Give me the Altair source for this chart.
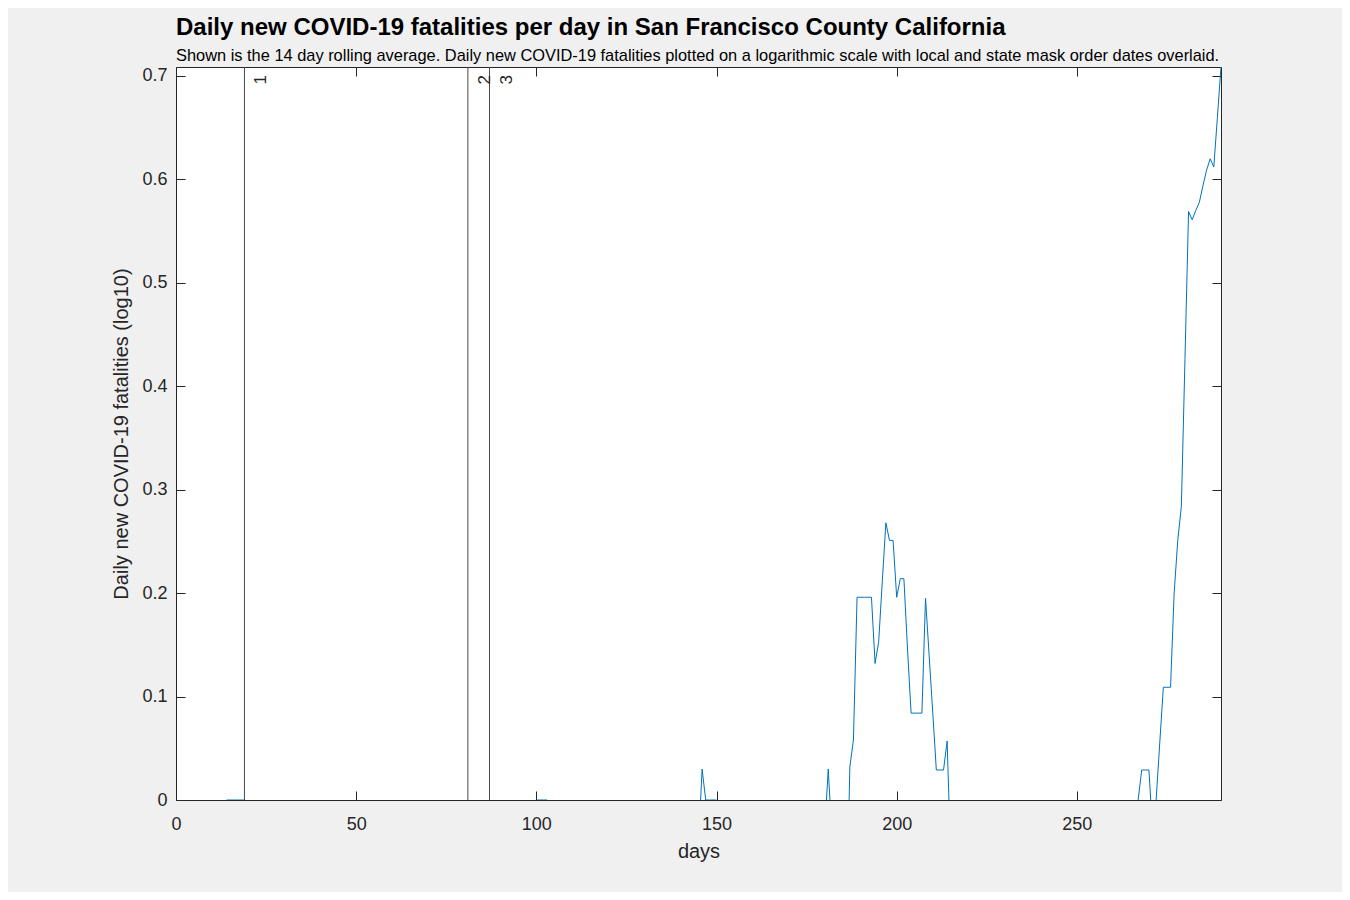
import altair as alt
import pandas as pd

# days since first case; log10 of the 14 day rolling average of new deaths
days = [14, 15, 16, 17, 18, 19, 20,
        99, 100, 101, 102, 103, 104,
        144, 145, 146, 147, 148, 149, 150, 151,
        180, 181, 182,
        186, 187, 188, 189, 190, 191, 192, 193, 194, 195,
        196, 197, 198, 199, 200, 201, 202, 203, 204, 205,
        206, 207, 208, 209, 210, 211, 212, 213, 214, 215,
        266, 267, 268, 269, 270, 271, 272, 273, 274, 275,
        276, 277, 278, 279, 280, 281, 282, 283, 284, 285,
        286, 287, 288, 289, 290]
log_deaths = [0, 0, 0, 0, 0, 0, -0.03,
              -0.03, 0, 0, 0, 0, -0.03,
              -0.1, -0.043, 0.0299, 0, 0, 0, 0, -0.03,
              -0.032, 0.0299, -0.032,
              -0.128, 0.032, 0.058, 0.196, 0.196, 0.196, 0.196, 0.196, 0.132, 0.153,
              0.211, 0.268, 0.251, 0.251, 0.196, 0.214, 0.214, 0.146, 0.084, 0.084,
              0.084, 0.084, 0.195, 0.14, 0.085, 0.029, 0.029, 0.029, 0.057, -0.057,
              -0.03, 0, 0.029, 0.029, 0.029, -0.029, 0, 0.055, 0.109, 0.109,
              0.109, 0.2, 0.251, 0.284, 0.426, 0.569, 0.561, 0.57, 0.578, 0.594,
              0.609, 0.62, 0.612, 0.66, 0.709]

# local and state mask orders
mask_days = [19, 81, 87]
mask_labels = ["1", "2", "3"]

x_ticks = [0, 50, 100, 150, 200, 250]
y_ticks = [0, 0.1, 0.2, 0.3, 0.4, 0.5, 0.6, 0.7]

deaths_df = pd.DataFrame({"day": days, "log_deaths": log_deaths})
mask_df = pd.DataFrame({"day": mask_days, "label": mask_labels})

W, H = 1045, 733
FONT = "Liberation Sans"
INK = "#262626"

x_scale = alt.Scale(domain=[0, 290], nice=False, zero=False)
y_scale = alt.Scale(domain=[0, 0.7087], nice=False)


def tick_axis(orient, offset, values):
    # ticks only, pushed across the plot so they point inwards like matlab
    return alt.Axis(orient=orient, offset=offset, values=values, labels=False,
                    domain=False, grid=False, title=None, ticks=True,
                    tickSize=9, tickColor=INK, tickWidth=1)


line = alt.Chart(deaths_df).mark_line(color="#0072BD", strokeWidth=1, clip=True).encode(
    x=alt.X("day:Q", scale=x_scale,
            axis=alt.Axis(orient="bottom", values=x_ticks, title="days",
                          ticks=False, tickSize=0, labelPadding=15, domain=False,
                          grid=False, titlePadding=8, labelFlush=False)),
    y=alt.Y("log_deaths:Q", scale=y_scale,
            axis=alt.Axis(orient="left", values=y_ticks, format="~g",
                          title="Daily new COVID-19 fatalities (log10)",
                          ticks=False, tickSize=0, labelPadding=9, domain=False,
                          grid=False, titlePadding=10, labelFlush=False)))

ticks_a = alt.Chart(deaths_df).mark_line(strokeOpacity=0).encode(
    x=alt.X("day:Q", scale=x_scale, axis=tick_axis("top", -H, x_ticks)),
    y=alt.Y("log_deaths:Q", scale=y_scale, axis=tick_axis("right", -W, y_ticks)))

ticks_b = alt.Chart(deaths_df).mark_line(strokeOpacity=0).encode(
    x=alt.X("day:Q", scale=x_scale, axis=tick_axis("bottom", -H, x_ticks)),
    y=alt.Y("log_deaths:Q", scale=y_scale, axis=tick_axis("left", -W, y_ticks)))

mask_rules = alt.Chart(mask_df).mark_rule(color="#4a4a4a", strokeWidth=1).encode(
    x=alt.X("day:Q", scale=x_scale, axis=None))

mask_text = alt.Chart(mask_df).mark_text(
    angle=270, align="right", baseline="alphabetic", dx=-8, dy=22,
    fontSize=17, font=FONT, color=INK).encode(
    x=alt.X("day:Q", scale=x_scale, axis=None),
    y=alt.value(0),
    text="label:N")

title = alt.TitleParams(
    "Daily new COVID-19 fatalities per day in San Francisco County California",
    subtitle="Shown is the 14 day rolling average. Daily new COVID-19 fatalities plotted on a logarithmic scale with local and state mask order dates overlaid.",
    anchor="start", frame="group", font=FONT, fontSize=24, fontWeight="bold",
    color="black", subtitleFont=FONT, subtitleFontSize=16.4, subtitleColor="black",
    subtitlePadding=8, offset=2)

chart = alt.layer(line, ticks_a, ticks_b, mask_rules, mask_text).resolve_axis(
    x="independent", y="independent"
).properties(
    width=W, height=H, title=title, background="#f0f0f0",
    autosize=alt.AutoSizeParams(type="none"),
    padding={"left": 168, "top": 59, "right": 121, "bottom": 92}
).configure_view(
    fill="white", stroke=INK, strokeWidth=1
).configure_axis(
    labelFont=FONT, labelFontSize=18, labelColor=INK,
    titleFont=FONT, titleFontSize=20, titleFontWeight="normal", titleColor=INK
)

chart.save("out.html", embed_options={"renderer": "svg", "actions": False})
